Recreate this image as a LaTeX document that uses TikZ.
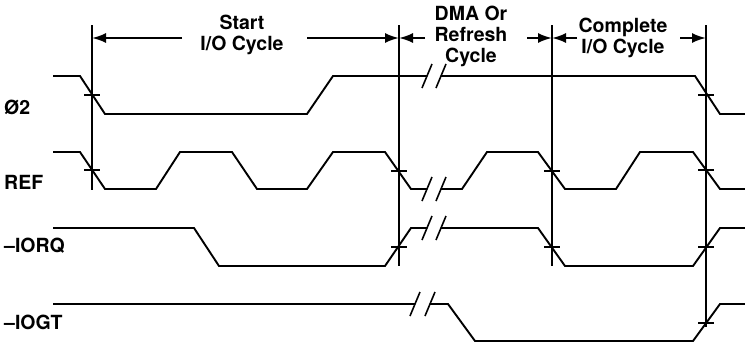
\documentclass[tikz,border=0pt]{standalone}
\usepackage{fontspec}
\setmainfont{TeX Gyre Heros}
\usetikzlibrary{arrows.meta}
\begin{document}
\begin{tikzpicture}[x=1pt,y=-1pt,
  sig/.style={line width=1.9pt, line join=miter},
  vline/.style={line width=1.5pt},
  dim/.style={line width=1.9pt,-{Latex[length=14pt,width=10pt]}},
  lbl/.style={font=\fontsize{19.5}{21}\selectfont\bfseries, inner sep=0pt},
  ttl/.style={font=\fontsize{19.5}{21}\selectfont\bfseries, inner sep=0pt, align=center},
  tk/.pic={\draw[line width=1.6pt] (-8,0) -- (8,0);},
  brk/.pic={\draw[line width=1.6pt] (-5,12) -- (5,-12);}]
\useasboundingbox (0,0) rectangle (745,343);

% signal labels
\node[lbl, anchor=west] (l1) at (4,107) {Ø2};
\node[lbl, anchor=west] (l2) at (4,182) {REF};
\node[lbl, anchor=west] (l3) at (4,246) {–IORQ};
\node[lbl, anchor=west] (l4) at (4,322) {–IOGT};

% vertical reference lines
\coordinate (v1t) at (92,25);  \coordinate (v1b) at (92,190);
\coordinate (v2t) at (399,25); \coordinate (v2b) at (399,266);
\coordinate (v3t) at (552,25); \coordinate (v3b) at (552,266);
\coordinate (v4t) at (706,25); \coordinate (v4b) at (706,327);
\draw[vline] (v1t) -- (v1b);
\draw[vline] (v2t) -- (v2b);
\draw[vline] (v3t) -- (v3b);
\draw[vline] (v4t) -- (v4b);

% cycle titles
\node[ttl] (t1) at (242,35) {Start\\I/O Cycle};
\node[ttl] (t2) at (471,36) {DMA Or\\Refresh\\Cycle};
\node[ttl] (t3) at (623,38) {Complete\\I/O Cycle};

% dimension arrows
\coordinate (a1) at (182,38); \coordinate (a2) at (307,38);
\coordinate (a3) at (425,38); \coordinate (a4) at (527,38);
\coordinate (a5) at (577,38); \coordinate (a6) at (680,38);
\draw[dim] (a1) -- (v1t |- a1);
\draw[dim] (a2) -- (v2t |- a2);
\draw[dim] (a3) -- (v2t |- a3);
\draw[dim] (a4) -- (v3t |- a4);
\draw[dim] (a5) -- (v3t |- a5);
\draw[dim] (a6) -- (v4t |- a6);

% Phi2
\draw[sig] (53,76) -- (80,76) -- (105,114) -- (307,114) -- (333,76) -- (427,76);
\draw[sig] (441,76) -- (695,76) -- (720,114) -- (745,114);
% REF
\draw[sig] (53,152) -- (80,152) -- (105,189) -- (156,189) -- (180,152) -- (232,152)
  -- (257,189) -- (307,189) -- (333,152) -- (385,152) -- (411,189) -- (427,189);
\draw[sig] (441,189) -- (462,189) -- (487,152) -- (538,152) -- (565,189) -- (616,189)
  -- (640,152) -- (693,152) -- (720,189) -- (745,189);
% IORQ
\draw[sig] (53,228) -- (194,228) -- (219,266) -- (385,266) -- (411,228) -- (427,228);
\draw[sig] (441,228) -- (538,228) -- (565,266) -- (693,266) -- (720,228) -- (745,228);
% IOGT
\draw[sig] (53,304) -- (415,304);
\draw[sig] (430,304) -- (448,304) -- (475,341) -- (693,341) -- (720,304) -- (745,304);

% break marks
\pic at (427,76) {brk};  \pic at (441,76) {brk};
\pic at (427,189) {brk}; \pic at (441,189) {brk};
\pic at (427,228) {brk}; \pic at (441,228) {brk};
\pic at (415,304) {brk}; \pic at (430,304) {brk};

% crossing ticks
\pic at (92,95) {tk};   \pic at (706,95) {tk};
\pic at (92,170) {tk};  \pic at (399,171) {tk}; \pic at (552,171) {tk}; \pic at (706,170) {tk};
\pic at (399,247) {tk}; \pic at (552,247) {tk}; \pic at (706,247) {tk};
\pic at (706,323) {tk};
\end{tikzpicture}
\end{document}
